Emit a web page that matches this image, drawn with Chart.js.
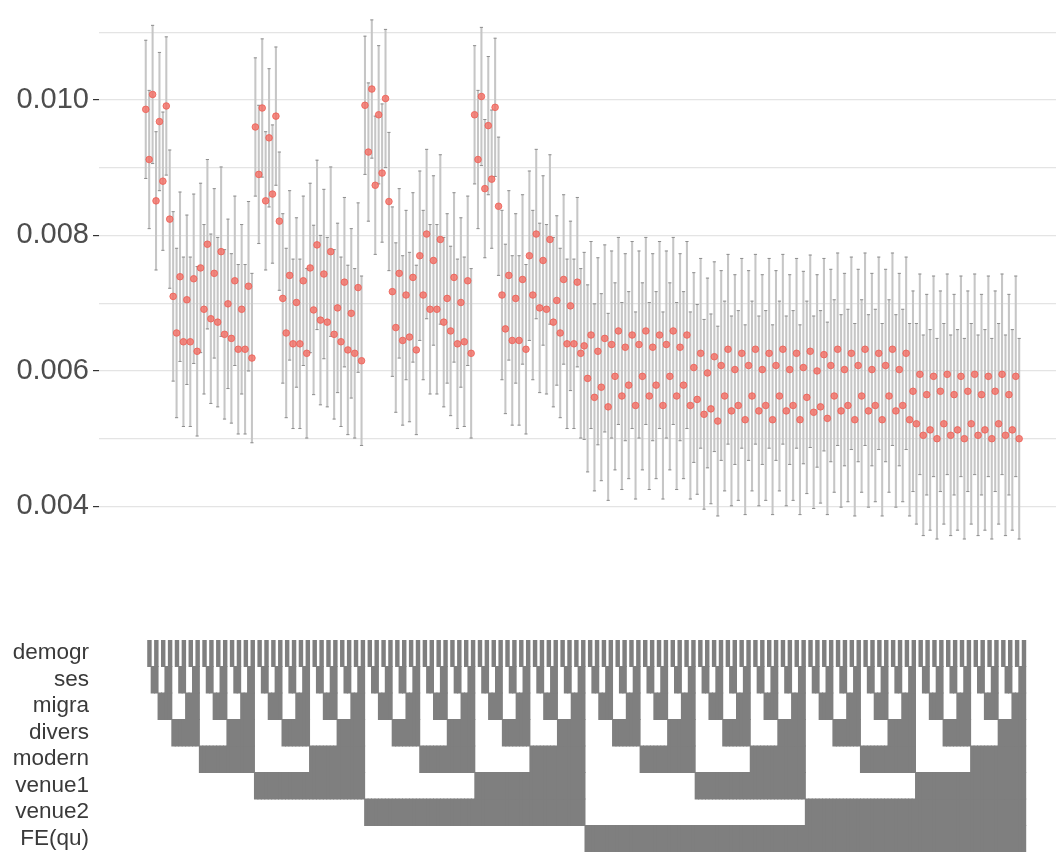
<!DOCTYPE html>
<html>
<head>
<meta charset="utf-8">
<title>Specification curve</title>
<script src="https://cdn.jsdelivr.net/npm/chart.js@4.4.1/dist/chart.umd.min.js"></script>
<style>
  html, body { margin: 0; padding: 0; background: #fff; }
  #wrap { position: relative; width: 1061px; height: 853px; overflow: hidden; }
  #estChart { position: absolute; left: 0; top: 0; }
  #specChart { position: absolute; left: 0; top: 600px; }
</style>
</head>
<body>
<div id="wrap">
  <canvas id="estChart" width="1061" height="600"></canvas>
  <canvas id="specChart" width="1061" height="253"></canvas>
</div>
<script>
// ——— Specification curve: 256 models, 8 on/off choices ———
// spec k (1..256): choice r is switched on when bit r of (k-1) is set
const FACTORS = ["demogr", "ses", "migra", "divers", "modern", "venue1", "venue2", "FE(qu)"];

// point estimates
const ESTIMATE = [
  0.00986, 0.00912, 0.01008, 0.00851, 0.00968, 0.00880, 0.00991, 0.00824,
  0.00710, 0.00656, 0.00739, 0.00643, 0.00705, 0.00643, 0.00736, 0.00629,
  0.00752, 0.00691, 0.00787, 0.00677, 0.00744, 0.00672, 0.00776, 0.00654,
  0.00699, 0.00648, 0.00733, 0.00632, 0.00691, 0.00632, 0.00725, 0.00619,
  0.00960, 0.00890, 0.00988, 0.00851, 0.00944, 0.00861, 0.00976, 0.00821,
  0.00707, 0.00656, 0.00741, 0.00640, 0.00701, 0.00640, 0.00733, 0.00626,
  0.00752, 0.00690, 0.00786, 0.00675, 0.00743, 0.00672, 0.00776, 0.00654,
  0.00693, 0.00643, 0.00731, 0.00631, 0.00685, 0.00626, 0.00723, 0.00615,
  0.00992, 0.00923, 0.01016, 0.00874, 0.00978, 0.00892, 0.01002, 0.00850,
  0.00717, 0.00664, 0.00744, 0.00645, 0.00712, 0.00650, 0.00738, 0.00631,
  0.00770, 0.00712, 0.00802, 0.00691, 0.00763, 0.00691, 0.00794, 0.00672,
  0.00707, 0.00659, 0.00738, 0.00640, 0.00701, 0.00643, 0.00733, 0.00626,
  0.00978, 0.00912, 0.01005, 0.00869, 0.00962, 0.00883, 0.00989, 0.00843,
  0.00712, 0.00662, 0.00741, 0.00645, 0.00707, 0.00645, 0.00735, 0.00632,
  0.00770, 0.00712, 0.00802, 0.00693, 0.00763, 0.00691, 0.00794, 0.00672,
  0.00704, 0.00656, 0.00735, 0.00640, 0.00696, 0.00640, 0.00731, 0.00626,
  0.00637, 0.00589, 0.00653, 0.00561, 0.00629, 0.00576, 0.00648, 0.00547,
  0.00639, 0.00592, 0.00659, 0.00563, 0.00635, 0.00579, 0.00653, 0.00549,
  0.00639, 0.00592, 0.00659, 0.00563, 0.00635, 0.00579, 0.00653, 0.00549,
  0.00639, 0.00592, 0.00659, 0.00563, 0.00635, 0.00579, 0.00653, 0.00549,
  0.00605, 0.00558, 0.00626, 0.00536, 0.00597, 0.00544, 0.00621, 0.00526,
  0.00608, 0.00563, 0.00632, 0.00541, 0.00602, 0.00549, 0.00626, 0.00528,
  0.00608, 0.00563, 0.00632, 0.00541, 0.00602, 0.00549, 0.00626, 0.00528,
  0.00608, 0.00563, 0.00632, 0.00541, 0.00602, 0.00549, 0.00626, 0.00528,
  0.00605, 0.00561, 0.00629, 0.00539, 0.00600, 0.00547, 0.00624, 0.00530,
  0.00608, 0.00563, 0.00632, 0.00541, 0.00602, 0.00549, 0.00626, 0.00528,
  0.00608, 0.00563, 0.00632, 0.00541, 0.00602, 0.00549, 0.00626, 0.00528,
  0.00608, 0.00563, 0.00632, 0.00541, 0.00602, 0.00549, 0.00626, 0.00528,
  0.00570, 0.00522, 0.00595, 0.00505, 0.00565, 0.00513, 0.00592, 0.00500,
  0.00570, 0.00522, 0.00595, 0.00505, 0.00565, 0.00513, 0.00592, 0.00500,
  0.00570, 0.00522, 0.00595, 0.00505, 0.00565, 0.00513, 0.00592, 0.00500,
  0.00570, 0.00522, 0.00595, 0.00505, 0.00565, 0.00513, 0.00592, 0.00500
];

// lower ends of the intervals
const LOWER = [
  0.00884, 0.00810, 0.00906, 0.00749, 0.00866, 0.00778, 0.00889, 0.00722,
  0.00585, 0.00531, 0.00614, 0.00518, 0.00580, 0.00518, 0.00611, 0.00504,
  0.00627, 0.00566, 0.00662, 0.00552, 0.00619, 0.00547, 0.00651, 0.00529,
  0.00574, 0.00523, 0.00608, 0.00507, 0.00566, 0.00507, 0.00600, 0.00494,
  0.00858, 0.00788, 0.00886, 0.00749, 0.00842, 0.00759, 0.00874, 0.00719,
  0.00582, 0.00531, 0.00616, 0.00515, 0.00576, 0.00515, 0.00608, 0.00501,
  0.00627, 0.00565, 0.00661, 0.00550, 0.00618, 0.00547, 0.00651, 0.00529,
  0.00568, 0.00518, 0.00606, 0.00506, 0.00560, 0.00501, 0.00598, 0.00490,
  0.00890, 0.00821, 0.00914, 0.00772, 0.00876, 0.00790, 0.00900, 0.00748,
  0.00592, 0.00539, 0.00619, 0.00520, 0.00587, 0.00525, 0.00613, 0.00506,
  0.00645, 0.00587, 0.00677, 0.00566, 0.00638, 0.00566, 0.00669, 0.00547,
  0.00582, 0.00534, 0.00613, 0.00515, 0.00576, 0.00518, 0.00608, 0.00501,
  0.00876, 0.00810, 0.00903, 0.00767, 0.00860, 0.00781, 0.00887, 0.00741,
  0.00587, 0.00537, 0.00616, 0.00520, 0.00582, 0.00520, 0.00610, 0.00507,
  0.00645, 0.00587, 0.00677, 0.00568, 0.00638, 0.00566, 0.00669, 0.00547,
  0.00579, 0.00531, 0.00610, 0.00515, 0.00571, 0.00515, 0.00606, 0.00501,
  0.00499, 0.00451, 0.00515, 0.00423, 0.00491, 0.00438, 0.00510, 0.00409,
  0.00501, 0.00454, 0.00521, 0.00425, 0.00497, 0.00441, 0.00515, 0.00411,
  0.00501, 0.00454, 0.00521, 0.00425, 0.00497, 0.00441, 0.00515, 0.00411,
  0.00501, 0.00454, 0.00521, 0.00425, 0.00497, 0.00441, 0.00515, 0.00411,
  0.00465, 0.00418, 0.00486, 0.00396, 0.00457, 0.00404, 0.00481, 0.00386,
  0.00468, 0.00423, 0.00492, 0.00401, 0.00462, 0.00409, 0.00486, 0.00388,
  0.00468, 0.00423, 0.00492, 0.00401, 0.00462, 0.00409, 0.00486, 0.00388,
  0.00468, 0.00423, 0.00492, 0.00401, 0.00462, 0.00409, 0.00486, 0.00388,
  0.00463, 0.00419, 0.00487, 0.00397, 0.00458, 0.00405, 0.00482, 0.00388,
  0.00466, 0.00421, 0.00490, 0.00399, 0.00460, 0.00407, 0.00484, 0.00386,
  0.00466, 0.00421, 0.00490, 0.00399, 0.00460, 0.00407, 0.00484, 0.00386,
  0.00466, 0.00421, 0.00490, 0.00399, 0.00460, 0.00407, 0.00484, 0.00386,
  0.00422, 0.00374, 0.00447, 0.00357, 0.00417, 0.00365, 0.00444, 0.00352,
  0.00422, 0.00374, 0.00447, 0.00357, 0.00417, 0.00365, 0.00444, 0.00352,
  0.00422, 0.00374, 0.00447, 0.00357, 0.00417, 0.00365, 0.00444, 0.00352,
  0.00422, 0.00374, 0.00447, 0.00357, 0.00417, 0.00365, 0.00444, 0.00352
];

// upper ends of the intervals
const UPPER = [
  0.01088, 0.01014, 0.01110, 0.00953, 0.01070, 0.00982, 0.01093, 0.00926,
  0.00835, 0.00781, 0.00864, 0.00768, 0.00830, 0.00768, 0.00861, 0.00754,
  0.00877, 0.00816, 0.00912, 0.00802, 0.00869, 0.00797, 0.00901, 0.00779,
  0.00824, 0.00773, 0.00858, 0.00757, 0.00816, 0.00757, 0.00850, 0.00744,
  0.01062, 0.00992, 0.01090, 0.00953, 0.01046, 0.00963, 0.01078, 0.00923,
  0.00832, 0.00781, 0.00866, 0.00765, 0.00826, 0.00765, 0.00858, 0.00751,
  0.00877, 0.00815, 0.00911, 0.00800, 0.00868, 0.00797, 0.00901, 0.00779,
  0.00818, 0.00768, 0.00856, 0.00756, 0.00810, 0.00751, 0.00848, 0.00740,
  0.01094, 0.01025, 0.01118, 0.00976, 0.01080, 0.00994, 0.01104, 0.00952,
  0.00842, 0.00789, 0.00869, 0.00770, 0.00837, 0.00775, 0.00863, 0.00756,
  0.00895, 0.00837, 0.00927, 0.00816, 0.00888, 0.00816, 0.00919, 0.00797,
  0.00832, 0.00784, 0.00863, 0.00765, 0.00826, 0.00768, 0.00858, 0.00751,
  0.01080, 0.01014, 0.01107, 0.00971, 0.01064, 0.00985, 0.01091, 0.00945,
  0.00837, 0.00787, 0.00866, 0.00770, 0.00832, 0.00770, 0.00860, 0.00757,
  0.00895, 0.00837, 0.00927, 0.00818, 0.00888, 0.00816, 0.00919, 0.00797,
  0.00829, 0.00781, 0.00860, 0.00765, 0.00821, 0.00765, 0.00856, 0.00751,
  0.00775, 0.00727, 0.00791, 0.00699, 0.00767, 0.00714, 0.00786, 0.00685,
  0.00777, 0.00730, 0.00797, 0.00701, 0.00773, 0.00717, 0.00791, 0.00687,
  0.00777, 0.00730, 0.00797, 0.00701, 0.00773, 0.00717, 0.00791, 0.00687,
  0.00777, 0.00730, 0.00797, 0.00701, 0.00773, 0.00717, 0.00791, 0.00687,
  0.00745, 0.00698, 0.00766, 0.00676, 0.00737, 0.00684, 0.00761, 0.00666,
  0.00748, 0.00703, 0.00772, 0.00681, 0.00742, 0.00689, 0.00766, 0.00668,
  0.00748, 0.00703, 0.00772, 0.00681, 0.00742, 0.00689, 0.00766, 0.00668,
  0.00748, 0.00703, 0.00772, 0.00681, 0.00742, 0.00689, 0.00766, 0.00668,
  0.00747, 0.00703, 0.00771, 0.00681, 0.00742, 0.00689, 0.00766, 0.00672,
  0.00750, 0.00705, 0.00774, 0.00683, 0.00744, 0.00691, 0.00768, 0.00670,
  0.00750, 0.00705, 0.00774, 0.00683, 0.00744, 0.00691, 0.00768, 0.00670,
  0.00750, 0.00705, 0.00774, 0.00683, 0.00744, 0.00691, 0.00768, 0.00670,
  0.00718, 0.00670, 0.00743, 0.00653, 0.00713, 0.00661, 0.00740, 0.00648,
  0.00718, 0.00670, 0.00743, 0.00653, 0.00713, 0.00661, 0.00740, 0.00648,
  0.00718, 0.00670, 0.00743, 0.00653, 0.00713, 0.00661, 0.00740, 0.00648,
  0.00718, 0.00670, 0.00743, 0.00653, 0.00713, 0.00661, 0.00740, 0.00648
];

const Y_GRID = [0.004, 0.005, 0.006, 0.007, 0.008, 0.009, 0.010, 0.011];
const Y_LABELS = ["0.004", "0.006", "0.008", "0.010"];

const X_MIN = -12.65;
const X_MAX = 266.75;
const FONT = "'Liberation Sans', Arial, sans-serif";

const isLabelled = (v) => Y_LABELS.includes(v.toFixed(3));

// keep the axis from reserving room for half a label above and below
function fixAxis(scale) {
  scale.width = 99;
  scale.paddingTop = 0;
  scale.paddingBottom = 0;
}

const pts = ESTIMATE.map((v, i) => ({ x: i + 1, y: v }));
const bars = ESTIMATE.map((v, i) => ({ x: i + 1, y: [LOWER[i], UPPER[i]] }));
const capsHi = UPPER.map((v, i) => ({ x: i + 1, y: v }));
const capsLo = LOWER.map((v, i) => ({ x: i + 1, y: v }));

new Chart(document.getElementById("estChart"), {
  type: "bar",
  data: {
    datasets: [
      {
        type: "scatter",
        data: pts,
        order: 0,
        pointRadius: 3.3,
        pointBackgroundColor: "rgba(243, 106, 96, 0.78)",
        pointBorderColor: "rgba(236, 98, 88, 0.85)",
        pointBorderWidth: 1
      },
      {
        type: "scatter",
        data: capsHi.concat(capsLo),
        order: 1,
        pointStyle: "line",
        pointRadius: 1.6,
        pointBorderColor: "#8f8f8f",
        pointBorderWidth: 1
      },
      {
        type: "bar",
        data: bars,
        order: 2,
        barThickness: 1.4,
        backgroundColor: "#c6c6c6",
        borderWidth: 0
      }
    ]
  },
  options: {
    responsive: false,
    animation: false,
    layout: { padding: { top: 0, right: 0, bottom: 40, left: 0 } },
    plugins: { legend: { display: false }, tooltip: { enabled: false } },
    scales: {
      x: { type: "linear", min: X_MIN, max: X_MAX, offset: false, display: false },
      y: {
        min: 0.00321,
        max: 0.01140,
        afterFit: fixAxis,
        afterBuildTicks(scale) { scale.ticks = Y_GRID.map((v) => ({ value: v })); },
        border: { display: false },
        grid: {
          color: "#e4e4e4",
          lineWidth: 1.2,
          tickLength: 6,
          tickColor: (c) => (c.tick && isLabelled(c.tick.value) ? "#333333" : "rgba(0,0,0,0)")
        },
        ticks: {
          padding: 4,
          color: "#4d4d4d",
          font: { family: FONT, size: 29 },
          callback: (v) => (isLabelled(v) ? v.toFixed(3) : "")
        }
      }
    }
  }
});

// tiles: one floating bar per switched-on cell
const tileSets = FACTORS.map((name, r) => {
  const cells = [];
  for (let k = 0; k < ESTIMATE.length; k++) {
    if ((k >> r) & 1) cells.push({ x: k + 1, y: [r, r + 1] });
  }
  return {
    label: name,
    data: cells,
    backgroundColor: "#7f7f7f",
    borderWidth: 0,
    inflateAmount: 0.5,
    barPercentage: 1,
    categoryPercentage: 1,
    grouped: false
  };
});

new Chart(document.getElementById("specChart"), {
  type: "bar",
  data: { datasets: tileSets },
  options: {
    responsive: false,
    animation: false,
    layout: { padding: { top: 40, right: 0, bottom: 1, left: 0 } },
    plugins: { legend: { display: false }, tooltip: { enabled: false } },
    scales: {
      x: { type: "linear", min: X_MIN, max: X_MAX, offset: false, display: false },
      y: {
        min: 0,
        max: FACTORS.length,
        reverse: true,
        afterFit: fixAxis,
        afterBuildTicks(scale) { scale.ticks = FACTORS.map((f, r) => ({ value: r + 0.5 })); },
        border: { display: false },
        grid: { display: false, drawTicks: false },
        ticks: {
          padding: 10,
          color: "#3a3a3a",
          font: { family: FONT, size: 22.5 },
          callback: (v) => FACTORS[Math.floor(v)]
        }
      }
    }
  }
});
</script>
</body>
</html>
